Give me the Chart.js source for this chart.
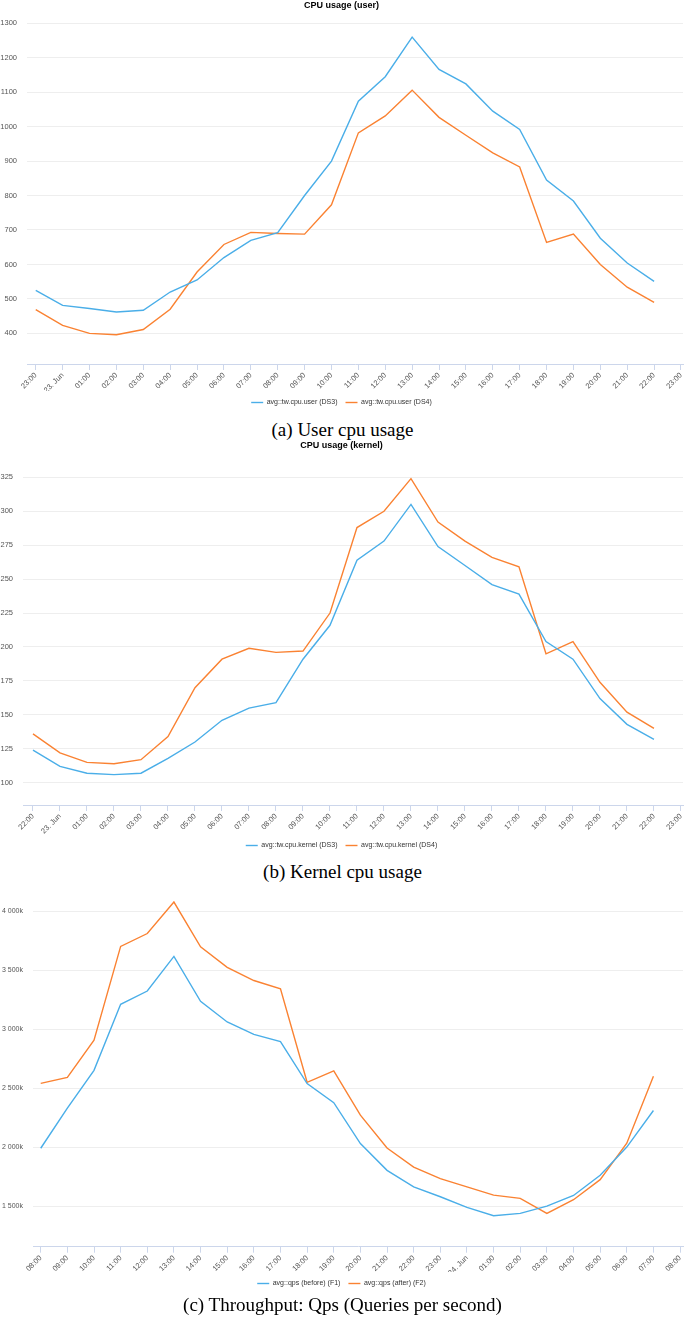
<!DOCTYPE html>
<html>
<head>
<meta charset="utf-8">
<script src="https://cdn.jsdelivr.net/npm/chart.js@4.4.0/dist/chart.umd.min.js"></script>
<style>
  body { margin: 0; background: #fff; width: 685px; height: 1323px; position: relative; overflow: hidden; }
  .box { position: absolute; left: 0; width: 685px; }
  .caption { position: absolute; left: 0; width: 685px; text-align: center; font-family: "Liberation Serif", "Times New Roman", serif; font-size: 19px; line-height: 20px; color: #000; }
</style>
</head>
<body>
<div class="box" style="top:0;height:416px"><canvas id="user"></canvas></div>
<div class="caption" style="top:420px">(a) User cpu usage</div>
<div class="box" style="top:440px;height:419px"><canvas id="kernel"></canvas></div>
<div class="caption" style="top:862px">(b) Kernel cpu usage</div>
<div class="box" style="top:885px;height:412px"><canvas id="qps"></canvas></div>
<div class="caption" style="top:1295px">(c) Throughput: Qps (Queries per second)</div>
<script>
// hourly tick labels (one more than the data points, axis ends one hour later)
const userLabels = ['23:00','23. Jun','01:00','02:00','03:00','04:00','05:00','06:00','07:00','08:00','09:00','10:00','11:00','12:00','13:00','14:00','15:00','16:00','17:00','18:00','19:00','20:00','21:00','22:00','23:00']
const kernelLabels = ['22:00','23. Jun','01:00','02:00','03:00','04:00','05:00','06:00','07:00','08:00','09:00','10:00','11:00','12:00','13:00','14:00','15:00','16:00','17:00','18:00','19:00','20:00','21:00','22:00','23:00']
const qpsLabels = ['08:00','09:00','10:00','11:00','12:00','13:00','14:00','15:00','16:00','17:00','18:00','19:00','20:00','21:00','22:00','23:00','24. Jun','01:00','02:00','03:00','04:00','05:00','06:00','07:00','08:00']

const userDS3 = [525,481,472,462,467,520,555,620,670,692,800,900,1074,1145,1260,1166,1124,1045,992,845,784,676,604,551]
const userDS4 = [469,423,400,396,411,470,578,658,693,690,688,773,982,1031,1106,1027,975,924,883,664,688,600,534,490]

const kernelDS3 = [124,112,107,106,107,118,130,146,155,159,191,216,264,278,305,274,260,246,239,204,191,162,143,132]
const kernelDS4 = [136,122,115,114,117,134,170,191,199,196,197,225,288,300,324,292,278,266,259,195,204,174,152,140]

const qpsF1 = [1990,2330,2650,3210,3322,3615,3235,3060,2955,2893,2538,2376,2030,1803,1663,1579,1489,1418,1438,1500,1590,1761,2000,2310]
const qpsF2 = [2540,2591,2905,3700,3809,4076,3697,3523,3411,3340,2549,2645,2270,1992,1831,1733,1663,1593,1565,1438,1554,1724,2033,2600]

const userTicks = [400,500,600,700,800,900,1000,1100,1200,1300]
const kernelTicks = [100,125,150,175,200,225,250,275,300,325]
const qpsTicks = [1500,2000,2500,3000,3500,4000]

const blue = '#4aaee8'
const orange = '#fa8232'
const font = 'Liberation Sans, Arial, sans-serif'

function series(label, values, color){
  return {
    label: label,
    data: values.map((v, i) => ({x: i, y: v})),
    borderColor: color,
    backgroundColor: color,
    borderWidth: 1.4,
    pointRadius: 0,
    tension: 0
  }
}

function makeChart(id, o){
  return new Chart(id, {
    type: 'line',
    data: { datasets: o.sets },
    options: {
      responsive: true,
      maintainAspectRatio: false,
      animation: false,
      layout: { padding: { top: o.padTop, right: 2, left: 0, bottom: 0 } },
      plugins: {
        title: {
          display: !!o.title,
          text: o.title,
          color: '#000',
          font: { family: font, size: 9, weight: 'bold' },
          padding: { top: 0, bottom: o.titleGap }
        },
        legend: {
          position: 'bottom',
          labels: {
            usePointStyle: true,
            pointStyle: 'line',
            pointStyleWidth: 12,
            padding: 8,
            color: '#333',
            font: { family: font, size: 7 }
          }
        },
        tooltip: { enabled: false }
      },
      scales: {
        x: {
          type: 'linear',
          min: o.xMin,
          max: o.xMax,
          afterBuildTicks: axis => { axis.ticks = o.labels.map((l, i) => ({value: i})) },
          afterFit: axis => { axis.height = o.xHeight; axis.paddingLeft = 0; axis.paddingRight = 0 },
          border: { color: '#ccd6eb' },
          grid: { drawOnChartArea: false, color: '#ccd6eb', tickLength: 6 },
          ticks: {
            autoSkip: false,
            minRotation: 45,
            maxRotation: 45,
            padding: 1,
            color: '#555',
            font: { family: font, size: 7.5 },
            callback: v => o.labels[v]
          }
        },
        y: {
          min: o.yMin,
          max: o.yMax,
          afterBuildTicks: axis => { axis.ticks = o.ticks.map(v => ({value: v})) },
          afterFit: axis => { axis.width = o.yWidth },
          border: { display: false },
          grid: { color: '#eeeeee', drawTicks: false },
          ticks: {
            padding: o.yPad,
            color: '#555',
            font: { family: font, size: o.yFont },
            callback: o.fmt
          }
        }
      }
    }
  })
}

makeChart('user', {
  title: 'CPU usage (user)', titleGap: 12.5, padTop: 0,
  labels: userLabels, ticks: userTicks,
  sets: [series('avg::tw.cpu.user (DS3)', userDS3, blue), series('avg::tw.cpu.user (DS4)', userDS4, orange)],
  xMin: -0.325, xMax: 24.075, xHeight: 27,
  yMin: 311, yMax: 1300, yWidth: 27, yPad: 10, yFont: 7.5,
  fmt: v => v
})

makeChart('kernel', {
  title: 'CPU usage (kernel)', titleGap: 26.5, padTop: 0,
  labels: kernelLabels, ticks: kernelTicks,
  sets: [series('avg::tw.cpu.kernel (DS3)', kernelDS3, blue), series('avg::tw.cpu.kernel (DS4)', kernelDS4, orange)],
  xMin: -0.37, xMax: 24.075, xHeight: 29,
  yMin: 83.6, yMax: 325, yWidth: 23, yPad: 10, yFont: 7.5,
  fmt: v => v
})

makeChart('qps', {
  title: '', titleGap: 0, padTop: 11.4,
  labels: qpsLabels, ticks: qpsTicks,
  sets: [series('avg::qps (before) (F1)', qpsF1, blue), series('avg::qps (after) (F2)', qpsF2, orange)],
  xMin: -0.29, xMax: 24.11, xHeight: 25.3,
  yMin: 1156, yMax: 4100, yWidth: 33, yPad: 10, yFont: 7,
  fmt: v => String(v).replace(/\B(?=(\d{3})+(?!\d))/g, ' ') + 'k'
})
</script>
</body>
</html>
